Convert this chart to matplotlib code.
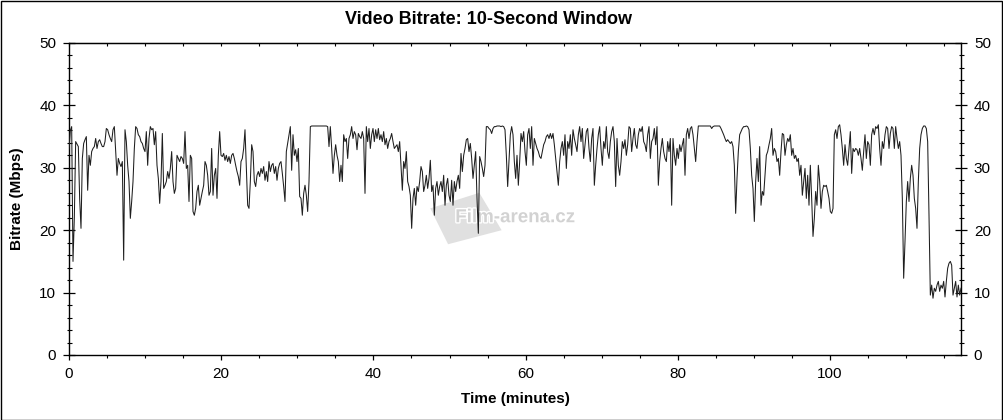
import numpy as np
import matplotlib
matplotlib.use('Agg')
import matplotlib.pyplot as plt
import matplotlib.patheffects as pe
from matplotlib.ticker import MultipleLocator
from matplotlib.patches import Rectangle, Polygon

plt.rcParams['font.family'] = ['Liberation Sans', 'DejaVu Sans']

# bitrate, evenly spaced samples (Mbps), split by time
rate_0_23 = [33.0, 36.0, 36.6, 15.0, 22.0, 34.2, 33.8, 33.4, 25.0, 20.3,
             31.5, 33.9, 34.5, 35.0, 26.4, 32.0, 30.4, 32.6, 33.1, 33.4,
             34.7, 33.1, 34.2, 34.5, 33.9, 33.4, 33.4, 34.2, 36.3, 36.1,
             35.3, 34.7, 34.2, 36.1, 36.6, 32.6, 28.8, 31.5, 30.7, 30.2,
             31.0, 15.2, 36.1, 34.2, 30.4, 27.8, 21.9, 24.6, 27.8, 33.1,
             36.6, 36.3, 35.3, 35.0, 34.2, 33.9, 33.1, 32.6, 35.8, 30.4,
             34.7, 36.6, 36.1, 36.3, 33.7, 35.8, 30.4, 28.3, 24.3, 27.8,
             35.5, 26.7, 27.2, 27.8, 29.4, 28.3, 29.9, 32.6, 27.8, 25.9,
             26.7, 32.0, 31.5, 31.0, 31.8, 31.5, 30.7, 35.8, 29.9, 30.4,
             24.6, 32.0, 31.5, 23.0, 22.4, 23.5, 26.2, 27.2, 24.0, 25.1,
             26.2, 27.2, 31.0, 30.4, 28.8, 25.6, 26.2, 33.1, 25.6, 28.8,
             29.9, 25.1, 32.0, 35.8, 32.0, 31.8, 32.3, 31.2, 32.0, 31.0,
             31.8, 30.7, 32.0, 32.3, 31.5, 30.4, 29.4, 28.6, 27.2, 31.0,
             31.5, 33.1, 36.1, 30.0]

rate_23_46 = [24.0, 23.5, 27.8, 33.7, 32.6, 27.8, 27.0, 28.8, 29.4, 28.6,
              29.9, 29.1, 30.2, 28.0, 29.4, 27.8, 31.0, 29.4, 30.4, 30.7,
              29.1, 30.2, 28.0, 29.9, 30.7, 31.0, 29.1, 27.0, 24.6, 32.6,
              33.9, 35.3, 36.6, 29.6, 35.3, 32.0, 32.9, 31.0, 33.1, 25.4,
              25.1, 22.4, 25.9, 27.2, 25.6, 23.0, 27.8, 36.6, 36.7, 36.7,
              36.7, 36.7, 36.7, 36.7, 36.7, 36.7, 36.7, 36.7, 36.7, 36.7,
              36.6, 33.4, 36.6, 33.1, 29.1, 32.0, 33.7, 32.0, 31.0, 27.8,
              30.4, 27.8, 35.3, 34.2, 34.7, 31.5, 34.7, 35.3, 36.6, 34.7,
              35.8, 35.3, 32.9, 35.5, 35.0, 34.7, 35.8, 34.7, 25.9, 36.6,
              34.2, 36.3, 33.1, 35.3, 36.3, 34.2, 36.1, 34.7, 36.3, 34.5,
              35.3, 34.2, 35.8, 33.7, 34.7, 33.1, 34.2, 34.7, 35.5, 34.2,
              33.1, 33.4, 33.7, 32.6, 34.2, 30.4, 26.4, 31.0, 29.9, 32.6,
              27.8, 27.0, 25.6, 20.3, 25.1, 26.7, 24.0, 27.0, 26.2, 27.8,
              30.2, 29.4, 26.2]

rate_46_70 = [27.2, 28.8, 26.7, 28.3, 31.2, 26.2, 27.2, 22.4, 26.7, 27.8,
              25.6, 27.0, 27.8, 26.2, 28.8, 24.0, 27.2, 28.3, 25.6, 24.6,
              28.0, 24.0, 27.8, 26.2, 27.8, 28.8, 26.7, 32.3, 29.4, 32.0,
              33.1, 34.5, 34.7, 32.6, 33.9, 31.5, 28.3, 30.4, 32.6, 25.1,
              19.5, 31.8, 31.0, 29.9, 28.6, 30.4, 36.6, 36.6, 36.3, 36.1,
              35.5, 36.3, 36.6, 36.6, 36.7, 36.7, 36.7, 36.6, 36.7, 36.6,
              36.1, 32.0, 27.0, 31.0, 35.3, 36.6, 35.3, 31.0, 28.3, 32.0,
              27.2, 31.0, 35.5, 34.2, 35.8, 32.6, 30.4, 35.3, 36.3, 33.1,
              36.6, 30.4, 34.7, 33.9, 33.1, 32.6, 31.8, 31.5, 32.6, 33.7,
              34.2, 35.0, 35.3, 34.7, 35.5, 34.7, 35.5, 33.7, 31.5, 29.4,
              27.2, 31.0, 33.1, 34.2, 32.0, 35.3, 29.9, 34.2, 33.1, 35.3,
              32.0, 36.1, 34.7, 33.7, 32.6, 35.3, 36.6, 34.2, 36.3, 31.5,
              33.7, 35.8, 36.3, 33.1, 31.0, 34.7, 36.3, 27.2, 30.4, 33.1,
              35.3, 36.6, 33.1]

rate_70_93 = [30.4, 34.2, 33.1, 36.6, 32.6, 31.5, 34.2, 35.8, 36.6, 34.2,
              27.0, 34.7, 30.4, 28.8, 31.0, 34.2, 33.1, 34.5, 32.0, 33.7,
              36.6, 36.3, 32.6, 34.7, 36.3, 33.7, 33.1, 35.3, 36.3, 35.8,
              36.6, 34.2, 33.7, 32.6, 35.3, 36.6, 31.5, 34.2, 34.7, 36.3,
              33.7, 36.6, 27.2, 31.0, 33.1, 34.7, 32.6, 31.5, 31.0, 34.2,
              32.6, 34.7, 24.0, 34.7, 32.0, 30.4, 33.1, 31.5, 33.7, 32.6,
              33.7, 34.7, 28.8, 35.3, 36.3, 34.7, 36.3, 36.6, 35.3, 33.1,
              31.0, 34.2, 36.7, 36.7, 36.7, 36.7, 36.7, 36.7, 36.7, 36.7,
              36.7, 36.7, 36.3, 36.6, 36.7, 36.7, 36.7, 36.7, 36.7, 36.3,
              35.8, 35.3, 34.7, 34.2, 34.5, 34.2, 33.9, 34.2, 33.4, 30.4,
              22.7, 28.3, 32.6, 35.3, 35.8, 36.3, 36.6, 36.6, 36.7, 36.6,
              36.1, 33.1, 28.8, 26.7, 21.4, 27.8, 31.5, 27.8, 33.4, 24.0,
              26.2, 25.6, 28.8, 32.0, 32.6, 33.7, 34.7, 36.3, 32.0, 33.1,
              32.6, 31.0, 31.5]

rate_93_117 = [28.8, 32.6, 35.5, 35.3, 32.0, 33.7, 34.7, 34.2, 35.3, 32.0,
               33.1, 31.5, 32.0, 31.0, 31.5, 28.8, 30.4, 25.6, 27.8, 29.9,
               25.1, 28.8, 24.0, 30.4, 25.1, 19.0, 21.9, 26.2, 24.0, 30.4,
               27.8, 23.5, 26.2, 27.2, 27.0, 27.2, 26.2, 25.1, 23.0, 22.7,
               23.5, 35.3, 36.1, 34.7, 36.6, 36.9, 35.3, 33.1, 30.4, 33.7,
               31.5, 30.4, 33.1, 35.8, 29.1, 33.1, 32.6, 33.1, 32.9, 32.0,
               33.1, 31.5, 29.6, 32.6, 35.3, 31.5, 34.2, 33.7, 30.4, 35.3,
               36.3, 35.3, 36.6, 36.3, 36.9, 33.1, 30.4, 34.2, 33.1, 35.3,
               36.6, 36.3, 33.1, 35.5, 36.6, 36.3, 33.1, 36.6, 34.7, 33.1,
               34.2, 32.0, 25.1, 12.3, 18.2, 24.6, 27.8, 24.6, 28.3, 30.4,
               28.8, 25.1, 23.5, 20.3, 27.8, 33.1, 35.3, 36.3, 36.7, 36.7,
               36.3, 34.2, 22.4, 9.6, 11.2, 9.1, 10.7, 10.2, 11.2, 11.8,
               10.2, 11.2, 10.7, 11.8, 9.3, 11.8, 13.9, 14.7, 15.0, 14.4,
               9.6, 10.7, 11.8, 9.3, 11.2, 9.6, 10.7]

bitrate = np.concatenate([rate_0_23, rate_23_46, rate_46_70, rate_70_93, rate_93_117])
minutes = np.linspace(0, 117.2, len(bitrate))

fig = plt.figure(figsize=(10.04, 4.2), dpi=100)
ax = fig.add_axes([69/1004, 65/420, 892/1004, 312/420])

# watermark
ax.add_patch(Polygon([(0.405, 0.47), (0.46, 0.52), (0.485, 0.40), (0.425, 0.355)],
                     closed=True, transform=ax.transAxes, color='#e0e0e0', lw=0, zorder=1))
ax.text(0.50, 0.44, 'Film-arena.cz', transform=ax.transAxes, ha='center', va='center',
        fontsize=13.5, fontweight='bold', color='#d2d2d2', zorder=2,
        path_effects=[pe.withStroke(linewidth=2, foreground='white')])

ax.plot(minutes, bitrate, color='#1e1e1e', lw=0.75, zorder=3)

ax.set_xlim(0, 117.2)
ax.set_ylim(0, 50)
ax.xaxis.set_major_locator(MultipleLocator(20))
ax.xaxis.set_minor_locator(MultipleLocator(5))
ax.yaxis.set_major_locator(MultipleLocator(10))
ax.yaxis.set_minor_locator(MultipleLocator(2))

for s in ax.spines.values():
    s.set_linewidth(1.0)

ax.tick_params(axis='y', which='major', direction='inout', length=8.5, width=0.9,
               labelsize=11, pad=5, left=True, right=True, labelright=True)
ax.tick_params(axis='y', which='minor', direction='inout', length=3.6, width=0.8,
               left=True, right=True)
ax.tick_params(axis='x', which='major', direction='out', length=3.6, width=0.9,
               labelsize=11, pad=5)
ax.tick_params(axis='x', which='minor', direction='out', length=1.8, width=0.8)

top = ax.secondary_xaxis('top')
top.xaxis.set_major_locator(MultipleLocator(20))
top.xaxis.set_minor_locator(MultipleLocator(5))
top.tick_params(which='both', direction='in', labeltop=False, length=2, width=0.8)

ax.set_xlabel('Time (minutes)', fontsize=11, fontweight='bold')
ax.set_ylabel('Bitrate (Mbps)', fontsize=11, fontweight='bold')
ax.xaxis.set_label_coords(0.5, -0.118)
ax.yaxis.set_label_coords(-0.05, 0.5)

fig.text(489/1004, 1 - 20/420, 'Video Bitrate: 10-Second Window', ha='center', va='center',
         fontsize=13, fontweight='bold')

fig.patches.append(Rectangle((0.0005, 0.001), 0.998, 0.997, transform=fig.transFigure,
                             fill=False, edgecolor='black', lw=1.0))

fig.savefig('out.png', dpi=100)
